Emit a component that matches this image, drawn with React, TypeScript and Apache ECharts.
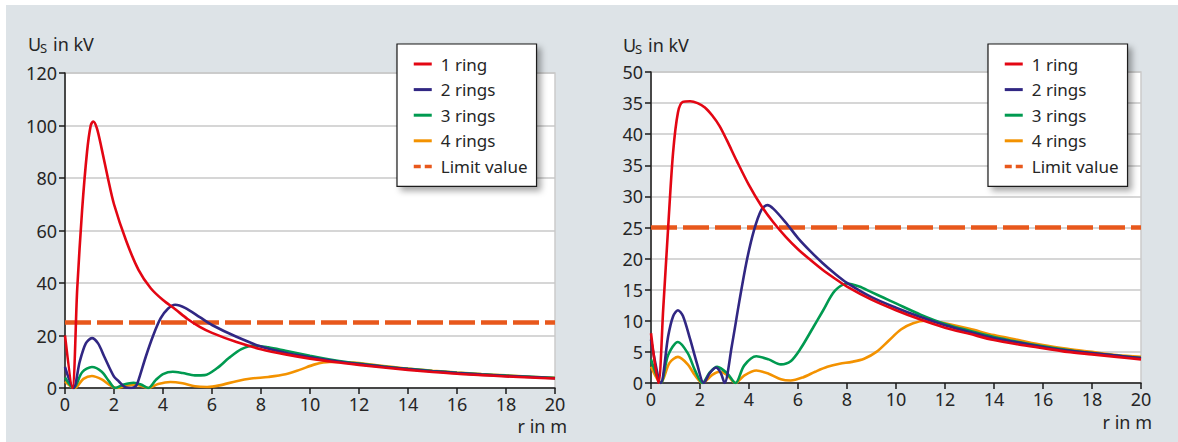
import React, { useEffect, useRef } from 'react';
import * as echarts from 'echarts';

// ---------- data ----------
const seriesNames = ['1 ring', '2 rings', '3 rings', '4 rings', 'Limit value'];
const xTickLabels = ['0', '2', '4', '6', '8', '10', '12', '14', '16', '18', '20'];
const leftYTickLabels = ['0', '20', '40', '60', '80', '100', '120'];
const rightYTickLabels = ['0', '5', '10', '15', '20', '25', '30', '35', '40', '35', '50'];
const limitValue = 25;

// left panel: U_S (kV) over r (m)
const leftRing1: [number, number][] = [
  [0, 20], [0.3, 0], [0.5, 38], [0.7, 68], [0.9, 90], [1.05, 100], [1.15, 101.5], [1.3, 99], [1.5, 91],
  [1.75, 80], [2, 70], [2.5, 56], [3, 45], [3.5, 38], [4, 33.5], [4.5, 30], [5, 26.3], [5.5, 23.3], [6, 21],
  [7, 17.5], [8, 14.8], [9, 12.8], [10, 11.2], [11, 9.9], [12, 8.8], [13, 7.8], [14, 6.9], [15, 6.1],
  [16, 5.4], [17, 4.9], [18, 4.4], [19, 4.0], [20, 3.6],
];
const leftRing2: [number, number][] = [
  [0, 8], [0.35, 0], [0.6, 10], [0.85, 17], [1.1, 19], [1.35, 17], [1.6, 12], [2.0, 4.3], [2.2, 2.5],
  [2.45, 0.3], [2.7, 0], [2.9, 0.8], [3.0, 3], [3.3, 12], [3.6, 20], [3.9, 26.5], [4.2, 30.2], [4.5, 31.7],
  [4.9, 30.5], [5.5, 27], [6, 24], [7, 19.5], [8, 15.8], [9, 13.4], [10, 11.7], [11, 10.3], [12, 9.1],
  [13, 8.1], [14, 7.2], [15, 6.4], [16, 5.7], [17, 5.1], [18, 4.6], [19, 4.2], [20, 3.7],
];
const leftRing3: [number, number][] = [
  [0, 4], [0.35, 0], [0.7, 6], [1.1, 8], [1.5, 6.2], [1.8, 2.5], [2.05, 0], [2.4, 1.3], [2.8, 2], [3.1, 1.3],
  [3.4, 0], [3.7, 3], [4.0, 5.3], [4.4, 6.2], [4.8, 5.7], [5.3, 4.8], [5.7, 4.9], [6.2, 7.5], [6.7, 11.5],
  [7.2, 14.8], [7.7, 16.2], [8.3, 15.5], [9, 14.2], [10, 12.3], [11, 10.6], [12, 9.3], [13, 8.2], [14, 7.3],
  [15, 6.5], [16, 5.8], [17, 5.2], [18, 4.7], [19, 4.3], [20, 3.8],
];
const leftRing4: [number, number][] = [
  [0, 2.5], [0.4, 0], [0.75, 3.5], [1.1, 4.6], [1.5, 3.3], [1.8, 1.3], [2.1, 0], [2.5, 0.8], [2.85, 1.3],
  [3.15, 0.7], [3.4, 0], [3.8, 1.5], [4.3, 2.3], [4.8, 1.8], [5.3, 0.7], [5.8, 0.4], [6.3, 1], [7, 2.6],
  [7.6, 3.6], [8.3, 4.2], [9, 5.2], [9.6, 7], [10.2, 9], [10.8, 9.9], [11.5, 9.8], [12, 9.5], [13, 8.4],
  [14, 7.4], [15, 6.6], [16, 5.9], [17, 5.3], [18, 4.8], [19, 4.3], [20, 3.9],
];

// right panel
const rightRing1: [number, number][] = [
  [0, 8], [0.3, 0], [0.5, 12], [0.7, 25], [0.9, 37], [1.1, 43.5], [1.3, 45.2], [1.6, 45.3], [1.9, 45],
  [2.2, 44.3], [2.5, 43], [2.8, 41.3], [3.1, 39], [3.5, 35.7], [4, 31.8], [4.5, 28.5], [5, 25.8], [5.5, 23.5],
  [6, 21.5], [6.5, 19.8], [7, 18.2], [7.5, 16.8], [8, 15.5], [9, 13.4], [10, 11.7], [11, 10.2], [12, 8.9],
  [13, 7.9], [14, 6.9], [15, 6.2], [16, 5.6], [17, 5.0], [18, 4.6], [19, 4.2], [20, 3.8],
];
const rightRing2: [number, number][] = [
  [0, 7], [0.4, 0], [0.7, 7.5], [0.9, 10.7], [1.1, 11.7], [1.3, 10.8], [1.6, 7], [1.9, 2.8], [2.15, 0],
  [2.4, 1.6], [2.65, 2.5], [2.85, 1.6], [3.0, 0], [3.3, 6], [3.6, 13], [3.9, 19.5], [4.2, 24.5], [4.5, 27.8],
  [4.75, 28.6], [5.0, 28], [5.5, 25.8], [6, 23.3], [6.5, 21.2], [7, 19.3], [7.5, 17.6], [8, 16.1], [9, 13.8],
  [10, 12.1], [11, 10.6], [12, 9.3], [13, 8.2], [14, 7.2], [15, 6.5], [16, 5.8], [17, 5.2], [18, 4.8],
  [19, 4.4], [20, 4.0],
];
const rightRing3: [number, number][] = [
  [0, 3.8], [0.4, 0], [0.7, 4.5], [1.1, 6.6], [1.5, 4.8], [1.8, 2], [2.1, 0], [2.4, 1.7], [2.7, 2.6],
  [3.1, 1.6], [3.45, 0], [3.8, 2.8], [4.3, 4.3], [4.8, 3.8], [5.3, 3.0], [5.7, 3.5], [6.1, 5.5], [6.6, 8.8],
  [7.0, 11.5], [7.5, 14.8], [8, 16], [8.5, 15.5], [9, 14.6], [9.5, 13.7], [10, 12.8], [11, 11], [12, 9.5],
  [13, 8.4], [14, 7.4], [15, 6.6], [16, 5.9], [17, 5.3], [18, 4.8], [19, 4.4], [20, 4.0],
];
const rightRing4: [number, number][] = [
  [0, 2.6], [0.4, 0], [0.75, 3.2], [1.1, 4.2], [1.5, 3], [1.8, 1.2], [2.1, 0], [2.5, 1.3], [2.8, 1.8],
  [3.1, 1.3], [3.45, 0], [3.8, 1.2], [4.3, 2], [4.8, 1.5], [5.3, 0.6], [5.7, 0.4], [6.2, 0.9], [6.7, 1.8],
  [7.2, 2.6], [7.7, 3.1], [8.2, 3.4], [8.7, 3.9], [9.2, 5], [9.7, 6.8], [10.2, 8.6], [10.7, 9.6], [11.2, 10],
  [11.7, 9.8], [12, 9.6], [13, 8.7], [14, 7.7], [15, 6.9], [16, 6.1], [17, 5.5], [18, 5.0], [19, 4.5], [20, 4.2],
];

// ---------- styles ----------
const ringColors = ['#e30613', '#312783', '#009a50', '#f39200'];
const limitColor = '#e8581c';
const textColor = '#262626';
const axisColor = '#1a1a1a';
const gridLineColor = '#c9c9c9';
const fontFamily = '"Noto Sans", sans-serif';

function panelSeries(idx: number, rings: [number, number][][]) {
  const out: any[] = [];
  out.push({
    type: 'line',
    name: seriesNames[4],
    xAxisIndex: idx,
    yAxisIndex: idx,
    data: [[0, limitValue], [20, limitValue]],
    symbol: 'none',
    lineStyle: { color: limitColor, width: 4.5, type: [26, 6] },
    itemStyle: { color: limitColor },
  });
  for (let i = 3; i >= 0; i--) {
    out.push({
      type: 'line',
      name: seriesNames[i],
      xAxisIndex: idx,
      yAxisIndex: idx,
      data: rings[i],
      symbol: 'none',
      smooth: 0.3,
      lineStyle: { color: ringColors[i], width: 2.6 },
      itemStyle: { color: ringColors[i] },
    });
  }
  return out;
}

function xAxisOf(idx: number) {
  return {
    gridIndex: idx,
    type: 'value',
    min: 0,
    max: 20,
    interval: 2,
    axisLine: { show: true, onZero: false, lineStyle: { color: axisColor, width: 1.5 } },
    axisTick: { show: true, length: 6, lineStyle: { color: axisColor, width: 1.5 } },
    axisLabel: {
      fontSize: 18,
      color: textColor,
      fontFamily,
      margin: 7,
      formatter: (v: number) => xTickLabels[Math.round(v / 2)],
    },
    splitLine: { show: false },
  };
}

function yAxisOf(idx: number, max: number, interval: number, labels: string[]) {
  return {
    gridIndex: idx,
    type: 'value',
    min: 0,
    max,
    interval,
    axisLine: { show: true, lineStyle: { color: axisColor, width: 1.5 } },
    axisTick: { show: true, length: 6, lineStyle: { color: axisColor, width: 1.5 } },
    axisLabel: {
      fontSize: 18,
      color: textColor,
      fontFamily,
      margin: 8,
      formatter: (v: number) => labels[Math.round(v / interval)],
    },
    splitLine: { show: true, lineStyle: { color: gridLineColor, width: 1.5 } },
  };
}

function legendOf(left: number, top: number) {
  return {
    orient: 'vertical',
    left,
    top,
    data: [
      { name: seriesNames[0], lineStyle: { width: 3 } },
      { name: seriesNames[1], lineStyle: { width: 3 } },
      { name: seriesNames[2], lineStyle: { width: 3 } },
      { name: seriesNames[3], lineStyle: { width: 3 } },
      { name: seriesNames[4], lineStyle: { width: 3.5, type: [7, 4] } },
    ],
    itemWidth: 18,
    itemHeight: 14,
    itemGap: 5.6,
    itemStyle: { opacity: 0 },
    padding: [10, 9, 10, 15],
    backgroundColor: '#ffffff',
    borderColor: '#1a1a1a',
    borderWidth: 1.2,
    borderRadius: 0,
    shadowBlur: 6,
    shadowColor: 'rgba(0,0,0,0.35)',
    shadowOffsetX: 4,
    shadowOffsetY: 4,
    selectedMode: false,
    textStyle: { fontSize: 17, color: textColor, fontFamily, lineHeight: 20, padding: [0, 0, 0, 4] },
  };
}

function yTitle(x: number, y: number) {
  const font = `18px ${fontFamily}`;
  return [
    { type: 'text', x, y, style: { text: 'U', font, fill: textColor, textAlign: 'left', textVerticalAlign: 'middle', align: 'left', verticalAlign: 'middle' } },
    { type: 'text', x: x + 12, y: y + 4, style: { text: 'S', font: `13px ${fontFamily}`, fill: textColor, textAlign: 'left', textVerticalAlign: 'middle', align: 'left', verticalAlign: 'middle' } },
    { type: 'text', x: x + 25, y, style: { text: 'in kV', font, fill: textColor, textAlign: 'left', textVerticalAlign: 'middle', align: 'left', verticalAlign: 'middle' } },
  ];
}

function xTitle(x: number, y: number) {
  return {
    type: 'text',
    x,
    y,
    style: {
      text: 'r in m',
      font: `18px ${fontFamily}`,
      fill: textColor,
      textAlign: 'right',
      textVerticalAlign: 'middle',
      align: 'right',
      verticalAlign: 'middle',
    },
  };
}

export default function App() {
  const ref = useRef<HTMLDivElement>(null);
  useEffect(() => {
    if (!ref.current) return;
    const chart = echarts.init(ref.current, null, { renderer: 'svg' });
    const option: any = {
      animation: false,
      backgroundColor: '#ffffff',
      textStyle: { fontFamily },
      graphic: [
        { type: 'rect', z: -10, silent: true, shape: { x: 6, y: 5, width: 1172, height: 437 }, style: { fill: '#dde3e7' } },
        ...yTitle(28, 44),
        ...yTitle(623, 45),
        xTitle(567, 426),
        xTitle(1152, 422),
      ],
      grid: [
        { left: 65, top: 73, width: 490, height: 315, show: true, backgroundColor: '#ffffff', borderColor: '#cccccc', borderWidth: 1.5, z: 0 },
        { left: 651, top: 72, width: 490, height: 311, show: true, backgroundColor: '#ffffff', borderColor: '#cccccc', borderWidth: 1.5, z: 0 },
      ],
      legend: [legendOf(397, 44), legendOf(988, 44)],
      xAxis: [xAxisOf(0), xAxisOf(1)],
      yAxis: [
        yAxisOf(0, 120, 20, leftYTickLabels),
        yAxisOf(1, 50, 5, rightYTickLabels),
      ],
      series: [
        ...panelSeries(0, [leftRing1, leftRing2, leftRing3, leftRing4]),
        ...panelSeries(1, [rightRing1, rightRing2, rightRing3, rightRing4]),
      ],
    };
    chart.setOption(option);
    return () => chart.dispose();
  }, []);
  return (
    <div
      ref={ref}
      style={{ position: 'fixed', left: 0, top: 0, width: 1178, height: 442 }}
    />
  );
}
